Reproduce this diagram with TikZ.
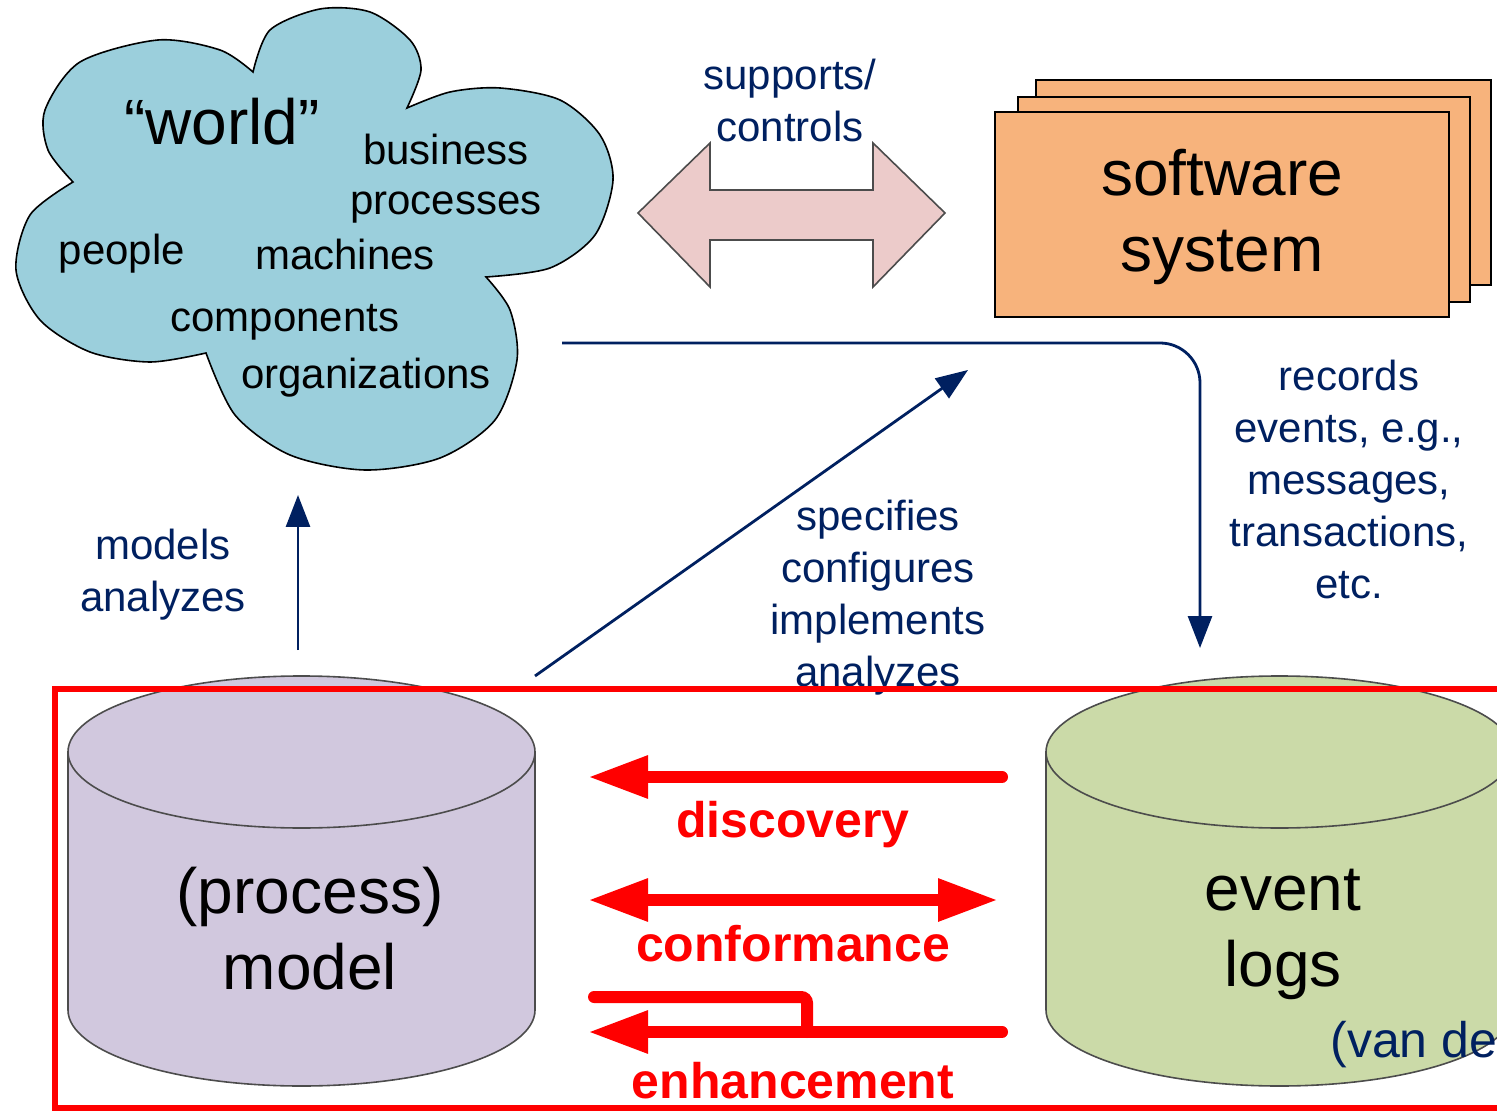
\documentclass[tikz,border=0pt]{standalone}
\usepackage{fontspec}
\setmainfont{Liberation Sans}
\usetikzlibrary{arrows.meta}
\definecolor{cloudblue}{RGB}{155,207,220}
\definecolor{arrowpink}{RGB}{236,203,202}
\definecolor{softorange}{RGB}{247,179,124}
\definecolor{modellilac}{RGB}{209,200,222}
\definecolor{loggreen}{RGB}{203,218,168}
\definecolor{navy}{RGB}{0,32,96}

\begin{document}
\begin{tikzpicture}[x=0.5pt,y=0.5pt,
  navyarrow/.style={draw=navy, line width=1.4pt, -{Triangle[length=16pt,width=12pt]}},
  redarrow/.style={draw=red, line width=6pt, line cap=round, -{Triangle[length=30pt,width=20pt]}},
  big/.style={font=\fontsize{32}{38}\selectfont, align=center},
  small/.style={font=\fontsize{21}{26}\selectfont, align=center},
  navytext/.style={small, text=navy},
  redtext/.style={font=\fontsize{25}{30}\selectfont\bfseries, text=red}]
\useasboundingbox (0,0) rectangle (1497,-1111);
\filldraw[fill=cloudblue, draw=black, line width=0.8pt]
 plot[smooth] coordinates {(73,-182) (48,-150) (45,-110) (80,-62) (158,-40) (220,-50) (253,-72)}
 -- plot[smooth] coordinates {(253,-72) (270,-30) (320,-9) (370,-12) (410,-40) (421,-70) (407,-108)}
 -- plot[smooth] coordinates {(407,-108) (450,-92) (500,-88) (560,-100) (600,-135) (613,-180) (595,-235) (550,-268) (486,-277)}
 -- plot[smooth] coordinates {(486,-277) (510,-310) (517,-360) (495,-420) (440,-458) (365,-470) (290,-455) (235,-415) (206,-353)}
 -- plot[smooth] coordinates {(206,-353) (150,-362) (90,-352) (40,-320) (16,-270) (30,-215) (73,-182)} -- cycle;
\node[font=\fontsize{32}{38}\selectfont, anchor=base] (world) at (222,-145) {“world”};
\node[small, anchor=base] (business) at (446,-165) {business};
\node[small, anchor=base] (processes) at (446,-215) {processes};
\node[small, anchor=base] (people) at (122,-265) {people};
\node[small, anchor=base] (machines) at (345,-270) {machines};
\node[small, anchor=base] (components) at (285,-332) {components};
\node[small, anchor=base] (organizations) at (366,-389) {organizations};

\filldraw[fill=arrowpink, draw=gray!60!black, line width=0.8pt] (638,-213) -- (710,-143) -- (710,-190) -- (873,-190)
 -- (873,-143) -- (945,-213) -- (873,-287) -- (873,-240) -- (710,-240) -- (710,-287) -- cycle;
\node[navytext] (supports) at (790,-100) {supports/\\controls};

\filldraw[fill=softorange, draw=black, line width=1pt] (1036,-80) rectangle (1491,-285);
\filldraw[fill=softorange, draw=black, line width=1pt] (1018,-97) rectangle (1470,-302);
\filldraw[fill=softorange, draw=black, line width=1pt] (995,-112) rectangle (1449,-317);
\node[big] (software) at (1222,-217) {software\\system};

\filldraw[fill=modellilac, draw=black!70, line width=0.8pt] (68,-752) -- (68,-1010)
 arc[start angle=180, end angle=360, x radius=233.5, y radius=76] -- (535,-752) -- cycle;
\filldraw[fill=modellilac, draw=black!70, line width=0.8pt] (301.5,-752) ellipse[x radius=233.5, y radius=76];
\node[big] (model) at (310,-929) {(process)\\model};

\filldraw[fill=loggreen, draw=black!70, line width=0.8pt] (1046,-752) -- (1046,-1010)
 arc[start angle=180, end angle=360, x radius=233.5, y radius=76] -- (1513,-752) -- cycle;
\filldraw[fill=loggreen, draw=black!70, line width=0.8pt] (1279.5,-752) ellipse[x radius=233.5, y radius=76];
\node[big] (logs) at (1283,-934) {event\\logs};

\coordinate (worldout) at (562,-343);
\coordinate (logsin) at (1200,-648);
\coordinate (modelup) at (298,-650);
\coordinate (worldin) at (298,-495);
\coordinate (modelout) at (535,-676);
\coordinate (softin) at (968,-370);
\draw[navyarrow, rounded corners=20pt] (worldout) -| (logsin);
\draw[navyarrow] (modelup) -- (worldin);
\draw[navyarrow] (modelout) -- (softin);
\node[navytext] (models) at (163,-575) {models\\analyzes};
\node[navytext] (specifies) at (878,-598) {specifies\\configures\\implements\\analyzes};
\node[navytext] (records) at (1349,-479) {records\\events, e.g.,\\messages,\\transactions,\\etc.};

\coordinate (discR) at (1002,-777);
\coordinate (discL) at (588,-777);
\coordinate (confR) at (998,-900);
\coordinate (confL) at (588,-900);
\coordinate (enhR) at (1002,-1032);
\coordinate (enhL) at (588,-1032);
\coordinate (enhT) at (594,-997);
\coordinate (enhM) at (807,-1032);
\draw[redarrow] (discR) -- (discL);
\draw[redarrow, {Triangle[length=30pt,width=20pt]}-{Triangle[length=30pt,width=20pt]}] (confL) -- (confR);
\draw[draw=red, line width=6pt, line cap=round, rounded corners=3pt] (enhT) -| (enhM);
\draw[redarrow] (enhR) -- (enhL);
\node[redtext] (discovery) at (793,-825) {discovery};
\node[redtext] (conformance) at (793,-944) {conformance};
\node[redtext] (enhancement) at (793,-1081) {enhancement};

\draw[red, line width=2.6pt] (55,-689) rectangle (1530,-1108);
\node[font=\fontsize{25}{30}\selectfont, text=navy, anchor=west, inner sep=0pt] (vande) at (1330,-1045) {(van de};
\end{tikzpicture}
\end{document}
